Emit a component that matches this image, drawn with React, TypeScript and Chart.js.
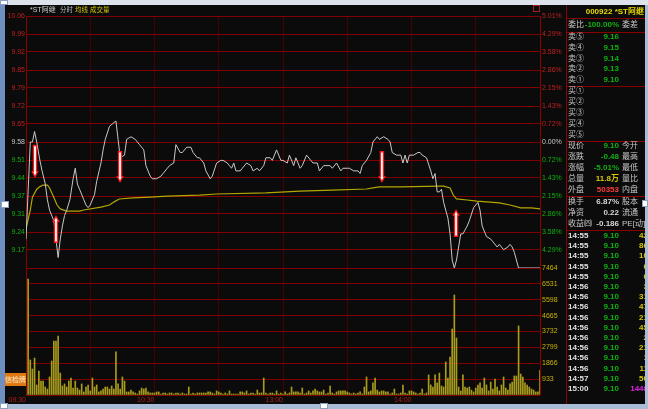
import React, { useEffect, useRef } from 'react';
import { Chart, registerables } from 'chart.js';
Chart.register(...registerables);

const FONT = '"Liberation Sans", "Noto Sans CJK SC", sans-serif';

// ---------- data ----------
const stockName = '*ST阿继';
const stockCode = '000922';
const prevClose = 9.58;
const limitPct = 5.01;

const pctTicks = [5.01, 4.29, 3.58, 2.86, 2.15, 1.43, 0.72, 0, -0.72, -1.43, -2.15, -2.86, -3.58, -4.29, -5.01];
const priceTickLabels = ['10.06', '9.99', '9.92', '9.85', '9.79', '9.72', '9.65', '9.58', '9.51', '9.44', '9.37', '9.31', '9.24', '9.17', ''];
const pctTickLabels = ['5.01%', '4.29%', '3.58%', '2.86%', '2.15%', '1.43%', '0.72%', '0.00%', '0.72%', '1.43%', '2.15%', '2.86%', '3.58%', '4.29%', ''];
const volTicks = [7464, 6531, 5598, 4665, 3732, 2799, 1866, 933, 0];
const volTickLabels = ['7464', '6531', '5598', '4665', '3732', '2799', '1866', '933', ''];
const timeTicks = [0, 30, 60, 90, 120, 150, 180, 210, 240];
const timeTickLabels = ['09:30', '', '10:30', '', '13:00', '', '14:00', '', ''];

// [minute, price]
const pricePoints = [
  [0, 9.21], [2, 9.58], [3, 9.58], [4, 9.62], [5, 9.58], [6.5, 9.51], [7.5, 9.47], [9, 9.42], [10, 9.36], [11, 9.32],
  [13, 9.28], [14, 9.21], [15, 9.14], [16, 9.21], [17, 9.26], [18, 9.30], [19, 9.32], [20.5, 9.36], [22, 9.44], [23, 9.48],
  [24, 9.42], [25, 9.40], [27, 9.36], [28, 9.34], [29, 9.33], [30, 9.34], [32, 9.38], [33, 9.43], [35, 9.50], [36, 9.55],
  [37, 9.59], [39, 9.64], [42, 9.66], [43, 9.59], [44, 9.52], [46, 9.53], [47, 9.59], [49, 9.60], [51, 9.59], [53, 9.57],
  [55, 9.55], [56, 9.49], [58, 9.45], [59, 9.44], [61, 9.44], [63, 9.45], [64, 9.46], [66, 9.48], [67, 9.49], [69, 9.50],
  [70, 9.57], [72, 9.54], [73, 9.54], [75, 9.56], [77, 9.56], [78, 9.54], [80, 9.52], [81, 9.52], [83, 9.50], [84, 9.47],
  [86, 9.44], [87, 9.45], [89, 9.50], [91, 9.51], [92, 9.51], [94, 9.50], [95, 9.49], [96, 9.48], [97, 9.50], [98, 9.47],
  [100, 9.47], [101, 9.48], [103, 9.50], [105, 9.49], [106, 9.47], [108, 9.48], [109, 9.47], [111, 9.49], [112, 9.52], [114, 9.52],
  [115, 9.51], [117, 9.55], [119, 9.51], [120, 9.51], [122, 9.50], [123, 9.53], [125, 9.49], [126, 9.52], [128, 9.48], [129, 9.49],
  [131, 9.53], [133, 9.51], [134, 9.50], [136, 9.50], [137, 9.47], [139, 9.49], [140, 9.49], [142, 9.49], [143, 9.48], [145, 9.50],
  [147, 9.47], [148, 9.48], [150, 9.48], [151, 9.48], [153, 9.47], [155, 9.47], [156, 9.46], [157, 9.49], [159, 9.51], [161, 9.54],
  [162, 9.58], [164, 9.60], [165, 9.59], [167, 9.60], [169, 9.59], [170, 9.58], [171, 9.54], [173, 9.53], [175, 9.53], [176, 9.50],
  [177, 9.53], [178, 9.50], [179, 9.53], [181, 9.53], [183, 9.54], [184, 9.54], [185, 9.53], [187, 9.52], [189, 9.47], [190, 9.44],
  [191, 9.46], [192, 9.39], [193, 9.39], [194, 9.40], [195, 9.35], [197, 9.29], [198, 9.23], [199, 9.13], [200, 9.10], [201, 9.13],
  [203, 9.23], [204, 9.23], [206, 9.26], [207, 9.28], [209, 9.33], [210, 9.34], [211, 9.35], [212, 9.32], [213, 9.26], [215, 9.22],
  [217, 9.21], [218, 9.20], [220, 9.18], [221, 9.19], [223, 9.17], [225, 9.18], [226, 9.19], [227, 9.18], [228, 9.16], [230, 9.10],
  [240, 9.10],
];

// [minute, average price]
const avgPoints = [
  [0, 9.25], [2, 9.32], [3, 9.37], [5, 9.40], [6.5, 9.41], [8, 9.416], [10, 9.416], [11, 9.405], [12.5, 9.378], [14.5, 9.34],
  [16, 9.325], [19, 9.317], [25, 9.317], [27, 9.321], [35, 9.332], [39, 9.34], [41, 9.351], [43.5, 9.363], [50, 9.367], [58, 9.37],
  [66, 9.374], [81, 9.378], [89, 9.382], [112, 9.386], [128, 9.393], [143, 9.397], [159, 9.401], [162, 9.405], [165, 9.409], [175, 9.409],
  [193, 9.412], [195, 9.412], [198, 9.405], [199.5, 9.378], [201, 9.363], [206, 9.359], [210.5, 9.355], [221, 9.348], [226, 9.34], [231, 9.329],
  [236, 9.329], [240, 9.325],
];

// per-minute volume, index = minute from 09:30
const volumes = [
  0, 6820, 2060, 1530, 2170, 590, 1410, 820, 820, 470,
  350, 1060, 2000, 3170, 3170, 3470, 1290, 530, 650, 470,
  820, 1000, 410, 820, 410, 290, 650, 180, 470, 590,
  240, 1000, 470, 590, 180, 240, 350, 470, 470, 350,
  530, 350, 2530, 650, 350, 1060, 820, 180, 180, 290,
  180, 120, 60, 240, 410, 350, 410, 180, 120, 120,
  120, 180, 180, 60, 120, 120, 60, 120, 120, 60,
  120, 120, 60, 120, 60, 60, 470, 60, 120, 60,
  120, 120, 120, 120, 120, 180, 180, 120, 60, 240,
  180, 120, 60, 120, 60, 240, 60, 60, 60, 60,
  180, 180, 120, 240, 60, 120, 120, 60, 290, 120,
  120, 1000, 120, 60, 120, 120, 60, 240, 60, 120,
  60, 180, 60, 120, 470, 180, 180, 180, 120, 410,
  60, 120, 240, 120, 240, 350, 240, 180, 180, 290,
  60, 120, 530, 120, 60, 180, 240, 240, 240, 240,
  180, 120, 60, 120, 60, 120, 180, 60, 470, 1060,
  180, 240, 710, 1000, 290, 180, 240, 240, 180, 180,
  60, 120, 350, 60, 60, 120, 590, 120, 60, 240,
  240, 180, 120, 60, 120, 350, 60, 120, 1180, 590,
  470, 1180, 710, 1290, 530, 470, 1940, 1000, 2230, 3880,
  5880, 3350, 470, 240, 1180, 470, 410, 470, 290, 180,
  410, 590, 710, 410, 1000, 590, 240, 760, 350, 940,
  470, 240, 590, 1060, 410, 290, 650, 760, 1120, 1120,
  4060, 1230, 1060, 710, 590, 470, 350, 290, 180, 180,
  1448,
];

// annotation arrows: minute, tail price, tip price
const arrows = [
  { minute: 4.2, from: 9.57, to: 9.443 },
  { minute: 14, from: 9.195, to: 9.302 },
  { minute: 43.9, from: 9.546, to: 9.424 },
  { minute: 166.2, from: 9.546, to: 9.424 },
  { minute: 200.8, from: 9.218, to: 9.325 },
];

const sellLabels = ['卖⑤', '卖④', '卖③', '卖②', '卖①'];
const sellPrices = ['9.16', '9.15', '9.14', '9.13', '9.10'];
const buyLabels = ['买①', '买②', '买③', '买④', '买⑤'];
const quoteLabels = ['现价', '涨跌', '涨幅', '总量', '外盘'];
const quoteValues = ['9.10', '-0.48', '-5.01%', '11.8万', '50353'];
const quoteLabels2 = ['今开', '最高', '最低', '量比', '内盘'];
const infoLabels = ['换手', '净资', '收益㈣'];
const infoValues = ['6.87%', '0.22', '-0.186'];
const infoLabels2 = ['股本', '流通', 'PE[动]'];
const tradeTimes = ['14:55', '14:55', '14:55', '14:55', '14:55', '14:56', '14:56', '14:56', '14:56', '14:56', '14:56', '14:56', '14:56', '14:56', '14:57', '15:00'];
const tradePrices = ['9.10', '9.10', '9.10', '9.10', '9.10', '9.10', '9.10', '9.10', '9.10', '9.10', '9.10', '9.10', '9.10', '9.10', '9.10', '9.10'];
const tradeVols = ['42', '86', '10', '6', '6', '3', '31', '47', '21', '45', '2', '21', '1', '11', '50', '1448'];

// ---------- colours ----------
const RED = '#c02020';
const GREEN = '#10b010';
const WHITE = '#c8c8c8';
const YELLOW = '#d8c800';
const GRID_H = '#800000';
const GRID_V = '#4a0000';
const GRID_EDGE = '#8c0000';

const tickFont = { family: 'Liberation Sans', size: 7 };

function drawArrow(ctx: CanvasRenderingContext2D, x: number, yTail: number, yTip: number) {
  const d = yTip > yTail ? 1 : -1;
  const headLen = 7, headHalf = 3.8, shaftHalf = 2.2;
  const yBase = yTip - d * headLen;
  ctx.beginPath();
  ctx.moveTo(x - shaftHalf, yTail);
  ctx.lineTo(x + shaftHalf, yTail);
  ctx.lineTo(x + shaftHalf, yBase);
  ctx.lineTo(x + headHalf, yBase);
  ctx.lineTo(x, yTip);
  ctx.lineTo(x - headHalf, yBase);
  ctx.lineTo(x - shaftHalf, yBase);
  ctx.closePath();
  ctx.fillStyle = '#ff1818';
  ctx.fill();
  ctx.beginPath();
  ctx.moveTo(x - 0.9, yTail + d * 1.5);
  ctx.lineTo(x + 0.9, yTail + d * 1.5);
  ctx.lineTo(x + 0.9, yBase + d * 1);
  ctx.lineTo(x + 1.6, yBase + d * 1);
  ctx.lineTo(x, yTip - d * 2.5);
  ctx.lineTo(x - 1.6, yBase + d * 1);
  ctx.lineTo(x - 0.9, yBase + d * 1);
  ctx.closePath();
  ctx.fillStyle = '#ffffff';
  ctx.fill();
}

const arrowPlugin = {
  id: 'arrows',
  afterDatasetsDraw(chart: any) {
    const { ctx, scales } = chart;
    ctx.save();
    for (const a of arrows) {
      const x = scales.x.getPixelForValue(a.minute);
      drawArrow(ctx, x, scales.yPrice.getPixelForValue(a.from), scales.yPrice.getPixelForValue(a.to));
    }
    ctx.restore();
  },
};

function T({ x, y, c = WHITE, s = 8, b = false, r = false, children }: any) {
  const st: any = {
    position: 'absolute', top: y - 7, height: 14, lineHeight: '14px', fontSize: s,
    fontWeight: b ? 'bold' : 'normal', color: c, fontFamily: FONT, whiteSpace: 'nowrap',
  };
  if (r) st.right = 648 - x; else st.left = x;
  return <div style={st}>{children}</div>;
}

function Box({ x, y, w, h, bg, border }: any) {
  return <div style={{ position: 'absolute', left: x, top: y, width: w, height: h, background: bg, border, boxSizing: 'border-box' }} />;
}

export default function App() {
  const ref = useRef<HTMLCanvasElement>(null);
  useEffect(() => {
    const lo = prevClose * (1 - limitPct / 100);
    const hi = prevClose * (1 + limitPct / 100);
    const pctColor = (i: number) => (pctTicks[i] > 0 ? RED : pctTicks[i] < 0 ? GREEN : WHITE);
    const chart = new Chart(ref.current as HTMLCanvasElement, {
      type: 'line',
      data: {
        datasets: [
          {
            type: 'line', label: '价格', yAxisID: 'yPrice',
            data: pricePoints.map(([m, p]) => ({ x: m, y: p })),
            borderColor: '#c8c8c8', borderWidth: 1, pointRadius: 0, tension: 0,
          },
          {
            type: 'line', label: '均线', yAxisID: 'yPrice',
            data: avgPoints.map(([m, p]) => ({ x: m, y: p })),
            borderColor: '#b4a600', borderWidth: 1.2, pointRadius: 0, tension: 0,
          },
          {
            type: 'bar', label: '成交量', yAxisID: 'yVol',
            data: volumes.map((v, i) => ({ x: i, y: v })),
            backgroundColor: '#a89c1c', barThickness: 1, grouped: false,
          } as any,
        ],
      },
      options: {
        responsive: false, animation: false, devicePixelRatio: 1,
        layout: { padding: { left: 0, top: 16, right: 82, bottom: 0 } },
        plugins: { legend: { display: false }, tooltip: { enabled: false } },
        scales: {
          x: {
            type: 'linear', min: 0, max: 240, offset: false,
            afterBuildTicks: (s: any) => { s.ticks = timeTicks.map((v) => ({ value: v })); },
            afterFit: (s: any) => { s.height = 14; s.paddingLeft = 0; s.paddingRight = 0; },
            grid: {
              offset: false, drawTicks: false,
              color: (ctx: any) => (ctx.tick && (ctx.tick.value === 0 || ctx.tick.value === 240) ? GRID_EDGE : GRID_V),
            },
            border: { display: false },
            ticks: {
              callback: (_v: any, i: number) => timeTickLabels[i],
              color: '#b01c1c', font: tickFont, padding: 1, align: 'end', maxRotation: 0, autoSkip: false,
            },
          },
          yPrice: {
            type: 'linear', position: 'left', stack: 'left', stackWeight: 252, weight: 1,
            min: lo, max: hi,
            afterBuildTicks: (s: any) => { s.ticks = pctTicks.map((p) => ({ value: prevClose * (1 + p / 100) })); },
            afterFit: (s: any) => { s.width = 26; s.paddingTop = 0; s.paddingBottom = 0; },
            grid: { color: GRID_H, drawTicks: false },
            border: { display: false },
            ticks: {
              callback: (_v: any, i: number) => priceTickLabels[i],
              color: (ctx: any) => pctColor(ctx.index), font: tickFont, padding: 1, autoSkip: false,
            },
          },
          yVol: {
            type: 'linear', position: 'left', stack: 'left', stackWeight: 127, weight: 0,
            min: 0, max: 7464,
            afterBuildTicks: (s: any) => { s.ticks = volTicks.map((v) => ({ value: v })); },
            afterFit: (s: any) => { s.width = 26; s.paddingTop = 0; s.paddingBottom = 0; },
            grid: { color: GRID_H, drawTicks: false },
            border: { display: false },
            ticks: { display: false },
          },
          yPct: {
            type: 'linear', position: 'right', stack: 'right', stackWeight: 252, weight: 0,
            min: -limitPct, max: limitPct,
            afterBuildTicks: (s: any) => { s.ticks = pctTicks.map((p) => ({ value: p })); },
            afterFit: (s: any) => { s.width = 26; s.paddingTop = 0; s.paddingBottom = 0; },
            grid: { display: false, drawTicks: false },
            border: { display: false },
            ticks: {
              callback: (_v: any, i: number) => pctTickLabels[i],
              color: (ctx: any) => pctColor(ctx.index), font: tickFont, padding: 2, autoSkip: false,
            },
          },
          yVolR: {
            type: 'linear', position: 'right', stack: 'right', stackWeight: 127, weight: 1,
            min: 0, max: 7464,
            afterBuildTicks: (s: any) => { s.ticks = volTicks.map((v) => ({ value: v })); },
            afterFit: (s: any) => { s.width = 26; s.paddingTop = 0; s.paddingBottom = 0; },
            grid: { display: false, drawTicks: false },
            border: { display: false },
            ticks: {
              callback: (_v: any, i: number) => volTickLabels[i],
              color: '#c8b400', font: tickFont, padding: 2, autoSkip: false,
            },
          },
        } as any,
      },
      plugins: [arrowPlugin],
    });
    return () => chart.destroy();
  }, []);

  const panelLines = [18, 32, 86, 141, 196, 230];
  const CJ = 8;

  return (
    <div style={{ position: 'fixed', left: 0, top: 0, width: 648, height: 409, background: '#0b0b0b', overflow: 'hidden' }}>
      <canvas ref={ref} width={648} height={409} style={{ position: 'absolute', left: 0, top: 0, width: 648, height: 409 }} />

      {/* header */}
      <T x={30} y={10} c="#d0d0d0" s={7}>{stockName}</T>
      <T x={60} y={10} c="#b8b8b8" s={6.5}>分时</T>
      <T x={75} y={10} c={YELLOW} s={6.5}>均线</T>
      <T x={90} y={10} c={YELLOW} s={6.5}>成交量</T>
      <Box x={533} y={5} w={7} h={7} border="1px solid #a02020" />

      {/* left button */}
      <div style={{ position: 'absolute', left: 5, top: 373, width: 21, height: 13, background: '#e07812', color: '#ffe8d0', fontSize: 7, lineHeight: '13px', textAlign: 'center', fontFamily: FONT }}>信检牌</div>

      {/* right panel */}
      <div style={{ position: 'absolute', left: 566, top: 5, width: 1, height: 399, background: '#8a0000' }} />
      {panelLines.map((y) => (
        <div key={y} style={{ position: 'absolute', left: 566, top: y, width: 82, height: 1, background: '#8a0000' }} />
      ))}
      <T x={644} y={12} c="#e8d800" s={8} b r>{stockCode} {stockName}</T>
      <T x={568} y={25} s={CJ}>委比</T>
      <T x={619} y={25} c={GREEN} s={8} b r>-100.00%</T>
      <T x={622} y={25} s={CJ}>委差</T>
      {sellLabels.map((l, i) => (
        <React.Fragment key={l}>
          <T x={568} y={37 + i * 10.8} s={CJ}>{l}</T>
          <T x={619} y={37 + i * 10.8} c={GREEN} s={8} b r>{sellPrices[i]}</T>
        </React.Fragment>
      ))}
      {buyLabels.map((l, i) => (
        <T key={l} x={568} y={91 + i * 11} s={CJ}>{l}</T>
      ))}
      {quoteLabels.map((l, i) => (
        <React.Fragment key={l}>
          <T x={568} y={146 + i * 11} s={CJ}>{l}</T>
          <T x={619} y={146 + i * 11} c={i < 3 ? GREEN : i === 3 ? YELLOW : '#ff3a3a'} s={8} b r>{quoteValues[i]}</T>
          <T x={622} y={146 + i * 11} s={CJ}>{quoteLabels2[i]}</T>
        </React.Fragment>
      ))}
      {infoLabels.map((l, i) => (
        <React.Fragment key={l}>
          <T x={568} y={202 + i * 11} s={CJ}>{l}</T>
          <T x={619} y={202 + i * 11} c="#d8d8d8" s={8} b r>{infoValues[i]}</T>
          <T x={622} y={202 + i * 11} s={CJ}>{infoLabels2[i]}</T>
        </React.Fragment>
      ))}
      {tradeTimes.map((t, i) => (
        <React.Fragment key={i}>
          <T x={568} y={236 + i * 10.2} c="#e0e0e0" s={8} b>{t}</T>
          <T x={619} y={236 + i * 10.2} c={GREEN} s={8} b r>{tradePrices[i]}</T>
          <T x={648} y={236 + i * 10.2} c={i === tradeVols.length - 1 ? '#e020e0' : '#d8c800'} s={8} b r>{tradeVols[i]}</T>
        </React.Fragment>
      ))}

      {/* window chrome */}
      <Box x={0} y={0} w={648} h={5} bg="#dde3ec" />
      <Box x={0} y={0} w={5} h={409} bg="#6f8fc0" />
      <Box x={645} y={5} w={3} h={404} bg="#a8bcd8" />
      <Box x={0} y={404} w={648} h={5} bg="#a8bcd8" />
      <Box x={0} y={0} w={8} h={5} bg="#ffffff" border="1px solid #8aa0c0" />
      <Box x={1} y={201} w={8} h={7} bg="#ffffff" border="1px solid #8aa0c0" />
      <Box x={642} y={200} w={6} h={7} bg="#ffffff" border="1px solid #8aa0c0" />
      <Box x={320} y={403} w={8} h={6} bg="#ffffff" border="1px solid #8aa0c0" />
      <Box x={0} y={403} w={8} h={6} bg="#ffffff" border="1px solid #8aa0c0" />
    </div>
  );
}
